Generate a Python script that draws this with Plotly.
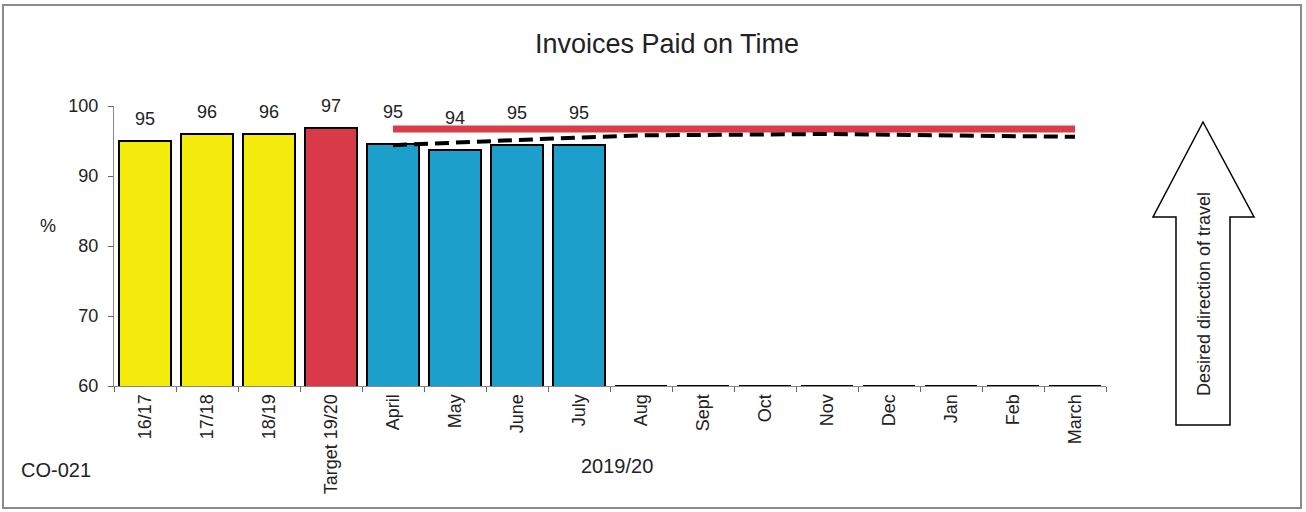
import plotly.graph_objects as go

# ---- data ----
categories = ["16/17", "17/18", "18/19", "Target 19/20", "April", "May", "June", "July",
              "Aug", "Sept", "Oct", "Nov", "Dec", "Jan", "Feb", "March"]
values = [95.0, 96.0, 96.0, 96.8, 94.6, 93.7, 94.5, 94.5,
          None, None, None, None, None, None, None, None]
value_labels = ["95", "96", "96", "97", "95", "94", "95", "95"]
groups = ["hist", "hist", "hist", "target", "month", "month", "month", "month",
          "month", "month", "month", "month", "month", "month", "month", "month"]
months = categories[4:]
target_line = [96.7] * 12
trend_line = [94.4, 94.8, 95.1, 95.5, 95.8, 95.9, 96.0, 96.0, 95.9, 95.8, 95.7, 95.6]
y_ticks = [60, 70, 80, 90, 100]

# ---- layout geometry (page pixel coordinates) ----
W, H = 1306, 512
L, R, T, B = 114, 200, 106, 126
PW, PH = W - L - R, H - T - B


def px(xp):
    return (xp - L) / PW


def py(yp):
    return (H - B - yp) / PH


colors = {"hist": "#F3EB0B", "target": "#D83A47", "month": "#1C9FCA"}
FONT = "Liberation Sans, Arial, sans-serif"
TXT = "#222"

xs = list(range(len(categories)))
ymin, ymax = y_ticks[0], y_ticks[-1]
bar_w = 0.84

fig = go.Figure()
fig.add_trace(go.Bar(
    x=xs, y=values,
    marker=dict(color=[colors[g] for g in groups], line=dict(color="black", width=2)),
    width=bar_w, showlegend=False, hoverinfo="skip",
))

# empty months: Excel draws them collapsed on the axis floor
bx, by = [], []
for i, v in enumerate(values):
    if v is None:
        bx += [i - bar_w / 2, i + bar_w / 2, None]
        by += [ymin, ymin, None]
fig.add_trace(go.Scatter(x=bx, y=by, mode="lines", line=dict(color="black", width=2),
                         showlegend=False, hoverinfo="skip", cliponaxis=False))

month_x = [categories.index(m) for m in months]
fig.add_trace(go.Scatter(x=month_x, y=target_line, mode="lines",
                         line=dict(color="#DB3B4B", width=7), showlegend=False, hoverinfo="skip"))
fig.add_trace(go.Scatter(x=month_x, y=trend_line, mode="lines",
                         line=dict(color="black", width=4, dash="14px,7px"),
                         showlegend=False, hoverinfo="skip"))

# value labels
for i, lab in enumerate(value_labels):
    fig.add_annotation(x=i, y=values[i], text=lab, showarrow=False, xanchor="center",
                       yanchor="middle", yshift=22 if groups[i] != "month" else 32,
                       font=dict(size=18, color=TXT, family=FONT))

fig.update_layout(
    width=W, height=H,
    margin=dict(l=L, r=R, t=T, b=B, pad=0),
    paper_bgcolor="white", plot_bgcolor="white",
    title=dict(text="Invoices Paid on Time", x=px(667), xref="paper", xanchor="center",
               yref="container", y=1 - 44 / H, yanchor="middle",
               font=dict(size=27, color=TXT, family=FONT)),
    font=dict(family=FONT, color=TXT),
    bargap=0,
    xaxis=dict(range=[-0.5, len(categories) - 0.5], tickmode="array", tickvals=xs,
               ticktext=categories, tickangle=-90, ticks="", showgrid=False, zeroline=False,
               showline=True, linecolor="#888", linewidth=1,
               tickfont=dict(size=18, color=TXT, family=FONT),
               minor=dict(tickmode="array", tickvals=[i - 0.5 for i in xs] + [len(xs) - 0.5],
                          ticks="outside", ticklen=5, tickcolor="#666", showgrid=False)),
    yaxis=dict(range=[ymin, ymax], tickvals=y_ticks, ticks="outside", ticklen=5,
               tickcolor="#666", showgrid=False, zeroline=False, showline=True,
               linecolor="#888", linewidth=1, ticklabelstandoff=6,
               tickfont=dict(size=18, color=TXT, family=FONT)),
)

# outer frame
fig.add_shape(type="rect", xref="paper", yref="paper",
              x0=px(3), x1=px(1301), y0=py(508), y1=py(5),
              line=dict(color="#8a8a8a", width=2), layer="below")

# arrow
pts = [(1203, 122), (1254, 217), (1230, 217), (1230, 425), (1176, 425), (1176, 217), (1153, 217)]
path = "M " + " L ".join(f"{px(a):.5f},{py(b):.5f}" for a, b in pts) + " Z"
fig.add_shape(type="path", xref="paper", yref="paper", path=path,
              line=dict(color="black", width=1.5), fillcolor="white")
fig.add_annotation(xref="paper", yref="paper", x=px(1204), y=py(294), xanchor="center",
                   yanchor="middle", text="Desired direction of travel", textangle=-90,
                   showarrow=False, font=dict(size=18, color=TXT, family=FONT))

# other texts
fig.add_annotation(xref="paper", yref="paper", x=px(48), y=py(226), xanchor="center",
                   yanchor="middle", text="%", showarrow=False,
                   font=dict(size=18, color=TXT, family=FONT))
fig.add_annotation(xref="paper", yref="paper", x=px(56), y=py(470), xanchor="center",
                   yanchor="middle", text="CO-021", showarrow=False,
                   font=dict(size=20, color=TXT, family=FONT))
fig.add_annotation(xref="paper", yref="paper", x=px(617), y=py(466), xanchor="center",
                   yanchor="middle", text="2019/20", showarrow=False,
                   font=dict(size=20, color=TXT, family=FONT))

fig.write_html("out.html", config={"displayModeBar": False},
               post_script="document.body.style.margin='0';document.body.style.overflow='hidden';")
